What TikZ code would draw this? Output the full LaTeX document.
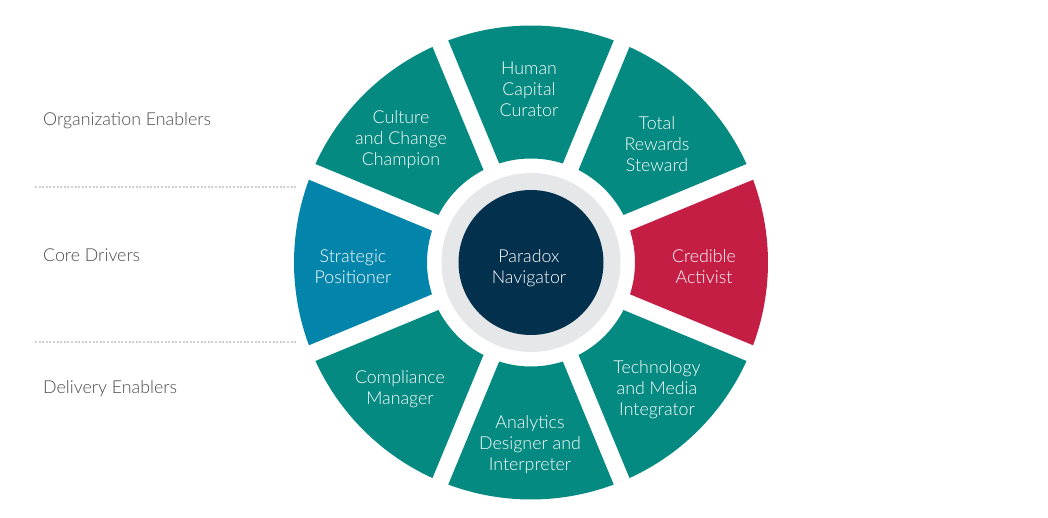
\documentclass[tikz,border=0pt]{standalone}
\usepackage{fontspec}
\setmainfont{Lato Light}
\usetikzlibrary{positioning}
\definecolor{wheelteal}{HTML}{048A81}
\definecolor{wheelblue}{HTML}{0385AB}
\definecolor{wheelred}{HTML}{C41E45}
\definecolor{hubnavy}{HTML}{03304C}
\definecolor{hubgray}{HTML}{E6E7E8}
\definecolor{labelgray}{HTML}{4A4A4A}
\definecolor{dotgray}{HTML}{CFCFCF}

\begin{document}
\begin{tikzpicture}[x=1pt, y=1pt, font=\fontsize{17.8}{21}\selectfont,
    seglabel/.style={text=white, align=center},
    rowlabel/.style={text=labelgray, anchor=west, inner sep=0pt},
    rowline/.style={dotgray, line width=2pt, dash pattern=on 2pt off 1.6pt}]
\useasboundingbox (-531,-255.5) rectangle (517,262.5);
% ring of eight roles
\foreach \a/\col in {0/wheelred, 45/wheelteal, 90/wheelteal, 135/wheelteal, 180/wheelblue, 225/wheelteal, 270/wheelteal, 315/wheelteal} {
    \fill[\col] (\a-20.44:237) arc[start angle=\a-20.44, end angle=\a+20.44, radius=237]
        -- (\a+17.81:104) arc[start angle=\a+17.81, end angle=\a-17.81, radius=104] -- cycle;
}
% hub
\fill[hubgray] (0,0) circle (89.5);
\node[circle, fill=hubnavy, minimum size=145pt, inner sep=0pt] (hub) at (0,0) {};
\node[seglabel] (hubtext) at (-2,-6) {Paradox\\Navigator};
\foreach \n/\x/\y/\txt in {human/-2/173.5/{Human\\Capital\\Curator},
        culture/-130/122.5/{Culture\\and Change\\Champion},
        rewards/126/118.5/{Total\\Rewards\\Steward},
        strategic/-178/-4.5/{Strategic\\Positioner},
        activist/173/-4.5/{Credible\\Activist},
        compliance/-131/-126.5/{Compliance\\Manager},
        technology/126/-127.5/{Technology\\and Media\\Integrator},
        analytics/-1/-182.5/{Analytics\\Designer and\\Interpreter}} {
    \node[seglabel] (\n) at (\x,\y) {\txt};
}
% rows on the left
\node[rowlabel] (orgrow) at (-488,141.5) {Organization Enablers};
\node[rowlabel] (corerow) at (-488,7) {Core Drivers};
\node[rowlabel] (deliveryrow) at (-488,-126) {Delivery Enablers};
\draw[rowline] (-496,75.8) -- (-234,75.8);
\draw[rowline] (-496,-79.2) -- (-234,-79.2);
\end{tikzpicture}
\end{document}
